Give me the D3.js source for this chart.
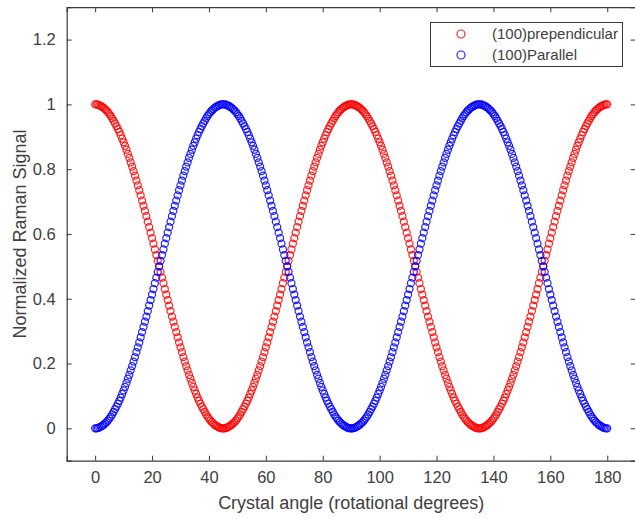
<!DOCTYPE html>
<html>
<head>
<meta charset="utf-8">
<script src="https://cdn.jsdelivr.net/npm/d3@7"></script>
<style>
html,body{margin:0;padding:0;background:#fff;}
svg{display:block;font-family:"Liberation Sans",Arial,Helvetica,sans-serif;}
</style>
</head>
<body>
<svg id="chart" width="635" height="519"></svg>
<script>
// Crystal angle (degrees), sampled every 0.5 degree
const angles = [
0,0.5,1,1.5,2,2.5,3,3.5,4,4.5,5,5.5,6,6.5,7,7.5,8,8.5,9,9.5,
10,10.5,11,11.5,12,12.5,13,13.5,14,14.5,15,15.5,16,16.5,17,17.5,18,18.5,19,19.5,
20,20.5,21,21.5,22,22.5,23,23.5,24,24.5,25,25.5,26,26.5,27,27.5,28,28.5,29,29.5,
30,30.5,31,31.5,32,32.5,33,33.5,34,34.5,35,35.5,36,36.5,37,37.5,38,38.5,39,39.5,
40,40.5,41,41.5,42,42.5,43,43.5,44,44.5,45,45.5,46,46.5,47,47.5,48,48.5,49,49.5,
50,50.5,51,51.5,52,52.5,53,53.5,54,54.5,55,55.5,56,56.5,57,57.5,58,58.5,59,59.5,
60,60.5,61,61.5,62,62.5,63,63.5,64,64.5,65,65.5,66,66.5,67,67.5,68,68.5,69,69.5,
70,70.5,71,71.5,72,72.5,73,73.5,74,74.5,75,75.5,76,76.5,77,77.5,78,78.5,79,79.5,
80,80.5,81,81.5,82,82.5,83,83.5,84,84.5,85,85.5,86,86.5,87,87.5,88,88.5,89,89.5,
90,90.5,91,91.5,92,92.5,93,93.5,94,94.5,95,95.5,96,96.5,97,97.5,98,98.5,99,99.5,
100,100.5,101,101.5,102,102.5,103,103.5,104,104.5,105,105.5,106,106.5,107,107.5,108,108.5,109,109.5,
110,110.5,111,111.5,112,112.5,113,113.5,114,114.5,115,115.5,116,116.5,117,117.5,118,118.5,119,119.5,
120,120.5,121,121.5,122,122.5,123,123.5,124,124.5,125,125.5,126,126.5,127,127.5,128,128.5,129,129.5,
130,130.5,131,131.5,132,132.5,133,133.5,134,134.5,135,135.5,136,136.5,137,137.5,138,138.5,139,139.5,
140,140.5,141,141.5,142,142.5,143,143.5,144,144.5,145,145.5,146,146.5,147,147.5,148,148.5,149,149.5,
150,150.5,151,151.5,152,152.5,153,153.5,154,154.5,155,155.5,156,156.5,157,157.5,158,158.5,159,159.5,
160,160.5,161,161.5,162,162.5,163,163.5,164,164.5,165,165.5,166,166.5,167,167.5,168,168.5,169,169.5,
170,170.5,171,171.5,172,172.5,173,173.5,174,174.5,175,175.5,176,176.5,177,177.5,178,178.5,179,179.5,
180
];

// (100)prependicular — normalized Raman signal
const perpendicular = [
1.000,1.000,0.999,0.997,0.995,0.992,0.989,0.985,0.981,0.976,0.970,0.964,0.957,0.949,0.941,0.933,0.924,0.915,0.905,0.894,
0.883,0.872,0.860,0.847,0.835,0.821,0.808,0.794,0.780,0.765,0.750,0.735,0.719,0.703,0.687,0.671,0.655,0.638,0.621,0.604,
0.587,0.570,0.552,0.535,0.517,0.500,0.483,0.465,0.448,0.430,0.413,0.396,0.379,0.362,0.345,0.329,0.313,0.297,0.281,0.265,
0.250,0.235,0.220,0.206,0.192,0.179,0.165,0.153,0.140,0.128,0.117,0.106,0.095,0.085,0.076,0.067,0.059,0.051,0.043,0.036,
0.030,0.024,0.019,0.015,0.011,0.008,0.005,0.003,0.001,0.000,0.000,
0.000,0.001,0.003,0.005,0.008,0.011,0.015,0.019,0.024,0.030,0.036,0.043,0.051,0.059,0.067,0.076,0.085,0.095,0.106,0.117,
0.128,0.140,0.153,0.165,0.179,0.192,0.206,0.220,0.235,0.250,0.265,0.281,0.297,0.313,0.329,0.345,0.362,0.379,0.396,0.413,
0.430,0.448,0.465,0.483,0.500,0.517,0.535,0.552,0.570,0.587,0.604,0.621,0.638,0.655,0.671,0.687,0.703,0.719,0.735,0.750,
0.765,0.780,0.794,0.808,0.821,0.835,0.847,0.860,0.872,0.883,0.894,0.905,0.915,0.924,0.933,0.941,0.949,0.957,0.964,0.970,
0.976,0.981,0.985,0.989,0.992,0.995,0.997,0.999,1.000,1.000,
1.000,0.999,0.997,0.995,0.992,0.989,0.985,0.981,0.976,0.970,0.964,0.957,0.949,0.941,0.933,0.924,0.915,0.905,0.894,0.883,
0.872,0.860,0.847,0.835,0.821,0.808,0.794,0.780,0.765,0.750,0.735,0.719,0.703,0.687,0.671,0.655,0.638,0.621,0.604,0.587,
0.570,0.552,0.535,0.517,0.500,0.483,0.465,0.448,0.430,0.413,0.396,0.379,0.362,0.345,0.329,0.313,0.297,0.281,0.265,0.250,
0.235,0.220,0.206,0.192,0.179,0.165,0.153,0.140,0.128,0.117,0.106,0.095,0.085,0.076,0.067,0.059,0.051,0.043,0.036,0.030,
0.024,0.019,0.015,0.011,0.008,0.005,0.003,0.001,0.000,0.000,
0.000,0.001,0.003,0.005,0.008,0.011,0.015,0.019,0.024,0.030,0.036,0.043,0.051,0.059,0.067,0.076,0.085,0.095,0.106,0.117,
0.128,0.140,0.153,0.165,0.179,0.192,0.206,0.220,0.235,0.250,0.265,0.281,0.297,0.313,0.329,0.345,0.362,0.379,0.396,0.413,
0.430,0.448,0.465,0.483,0.500,0.517,0.535,0.552,0.570,0.587,0.604,0.621,0.638,0.655,0.671,0.687,0.703,0.719,0.735,0.750,
0.765,0.780,0.794,0.808,0.821,0.835,0.847,0.860,0.872,0.883,0.894,0.905,0.915,0.924,0.933,0.941,0.949,0.957,0.964,0.970,
0.976,0.981,0.985,0.989,0.992,0.995,0.997,0.999,1.000,1.000
];

// (100)Parallel — normalized Raman signal
const parallel = [
0.000,0.000,0.001,0.003,0.005,0.008,0.011,0.015,0.019,0.024,0.030,0.036,0.043,0.051,0.059,0.067,0.076,0.085,0.095,0.106,
0.117,0.128,0.140,0.153,0.165,0.179,0.192,0.206,0.220,0.235,0.250,0.265,0.281,0.297,0.313,0.329,0.345,0.362,0.379,0.396,
0.413,0.430,0.448,0.465,0.483,0.500,0.517,0.535,0.552,0.570,0.587,0.604,0.621,0.638,0.655,0.671,0.687,0.703,0.719,0.735,
0.750,0.765,0.780,0.794,0.808,0.821,0.835,0.847,0.860,0.872,0.883,0.894,0.905,0.915,0.924,0.933,0.941,0.949,0.957,0.964,
0.970,0.976,0.981,0.985,0.989,0.992,0.995,0.997,0.999,1.000,1.000,
1.000,0.999,0.997,0.995,0.992,0.989,0.985,0.981,0.976,0.970,0.964,0.957,0.949,0.941,0.933,0.924,0.915,0.905,0.894,0.883,
0.872,0.860,0.847,0.835,0.821,0.808,0.794,0.780,0.765,0.750,0.735,0.719,0.703,0.687,0.671,0.655,0.638,0.621,0.604,0.587,
0.570,0.552,0.535,0.517,0.500,0.483,0.465,0.448,0.430,0.413,0.396,0.379,0.362,0.345,0.329,0.313,0.297,0.281,0.265,0.250,
0.235,0.220,0.206,0.192,0.179,0.165,0.153,0.140,0.128,0.117,0.106,0.095,0.085,0.076,0.067,0.059,0.051,0.043,0.036,0.030,
0.024,0.019,0.015,0.011,0.008,0.005,0.003,0.001,0.000,0.000,
0.000,0.001,0.003,0.005,0.008,0.011,0.015,0.019,0.024,0.030,0.036,0.043,0.051,0.059,0.067,0.076,0.085,0.095,0.106,0.117,
0.128,0.140,0.153,0.165,0.179,0.192,0.206,0.220,0.235,0.250,0.265,0.281,0.297,0.313,0.329,0.345,0.362,0.379,0.396,0.413,
0.430,0.448,0.465,0.483,0.500,0.517,0.535,0.552,0.570,0.587,0.604,0.621,0.638,0.655,0.671,0.687,0.703,0.719,0.735,0.750,
0.765,0.780,0.794,0.808,0.821,0.835,0.847,0.860,0.872,0.883,0.894,0.905,0.915,0.924,0.933,0.941,0.949,0.957,0.964,0.970,
0.976,0.981,0.985,0.989,0.992,0.995,0.997,0.999,1.000,1.000,
1.000,0.999,0.997,0.995,0.992,0.989,0.985,0.981,0.976,0.970,0.964,0.957,0.949,0.941,0.933,0.924,0.915,0.905,0.894,0.883,
0.872,0.860,0.847,0.835,0.821,0.808,0.794,0.780,0.765,0.750,0.735,0.719,0.703,0.687,0.671,0.655,0.638,0.621,0.604,0.587,
0.570,0.552,0.535,0.517,0.500,0.483,0.465,0.448,0.430,0.413,0.396,0.379,0.362,0.345,0.329,0.313,0.297,0.281,0.265,0.250,
0.235,0.220,0.206,0.192,0.179,0.165,0.153,0.140,0.128,0.117,0.106,0.095,0.085,0.076,0.067,0.059,0.051,0.043,0.036,0.030,
0.024,0.019,0.015,0.011,0.008,0.005,0.003,0.001,0.000,0.000
];

const xTicks = [0,20,40,60,80,100,120,140,160,180];
const yTicks = [0,0.2,0.4,0.6,0.8,1,1.2];
const seriesNames = ["(100)prependicular","(100)Parallel"];
const seriesColors = ["#ff0000","#0000ff"];
const xLabel = "Crystal angle (rotational degrees)";
const yLabel = "Normalized Raman Signal";

(function draw(){
const svg = d3.select("#chart");
const pL = 66.7, pR = 635.7, pT = 7.2, pB = 460.7;
const axisColor = "#3a3a3a", textColor = "#404040";

const x = d3.scaleLinear().domain([-10,190]).range([pL,pR]);
const y = d3.scaleLinear().domain([-0.1,1.3]).range([pB,pT]);

// data series
[perpendicular, parallel].forEach((vals,si)=>{
  svg.append("g")
    .selectAll("circle")
    .data(angles.map((a,i)=>({a:a, v:vals[i]})))
    .join("circle")
    .attr("cx", d=>x(d.a))
    .attr("cy", d=>y(d.v))
    .attr("r", 3.5)
    .attr("fill","none")
    .attr("stroke", seriesColors[si])
    .attr("stroke-opacity", 0.85)
    .attr("stroke-width", 1.25);
});

// axes
const tickLen = 5;
const fmt = d => String(+d.toFixed(1));
const gx = svg.append("g").attr("transform",`translate(0,${pB})`)
  .call(d3.axisBottom(x).tickValues(xTicks).tickSize(-tickLen).tickPadding(11).tickFormat(fmt));
const gxt = svg.append("g").attr("transform",`translate(0,${pT})`)
  .call(d3.axisTop(x).tickValues(xTicks).tickSize(-tickLen).tickFormat(""));
const gy = svg.append("g").attr("transform",`translate(${pL},0)`)
  .call(d3.axisLeft(y).tickValues(yTicks).tickSize(-tickLen).tickPadding(11).tickFormat(fmt));
const gyr = svg.append("g").attr("transform",`translate(${pR},0)`)
  .call(d3.axisRight(y).tickValues(yTicks).tickSize(-tickLen).tickFormat(""));
[gx,gxt,gy,gyr].forEach(g=>{
  g.select(".domain").attr("stroke",axisColor).attr("stroke-width",1.2);
  g.selectAll(".tick line").attr("stroke",axisColor).attr("stroke-width",1);
  g.selectAll(".tick text").attr("fill",textColor)
    .style("font-family",'"Liberation Sans",Arial,sans-serif').style("font-size","16.5px");
});

// axis labels
svg.append("text").attr("x",(pL+pR)/2).attr("y",509)
  .attr("text-anchor","middle").attr("fill",textColor)
  .style("font-size","18px").text(xLabel);
svg.append("text").attr("transform",`translate(26,${(pT+pB)/2}) rotate(-90)`)
  .attr("text-anchor","middle").attr("fill",textColor)
  .style("font-size","18px").text(yLabel);

// legend
const lg = svg.append("g");
lg.append("rect").attr("x",430.5).attr("y",22.5).attr("width",192).attr("height",44)
  .attr("fill","#fff").attr("stroke",axisColor).attr("stroke-width",1);
seriesNames.forEach((n,i)=>{
  const cy = 34 + i*21;
  lg.append("circle").attr("cx",461).attr("cy",cy).attr("r",4)
    .attr("fill","none").attr("stroke",seriesColors[i]).attr("stroke-opacity",0.85).attr("stroke-width",1.2);
  lg.append("text").attr("x",492).attr("y",cy+5).attr("fill",textColor)
    .style("font-size","15px").text(n);
});
})();
</script>
</body>
</html>
